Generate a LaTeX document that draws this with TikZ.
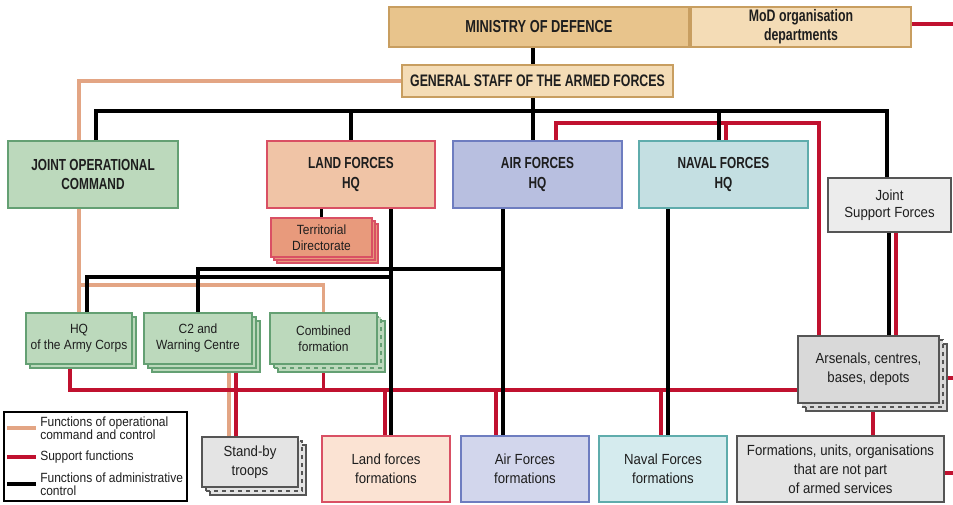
\documentclass[tikz,border=0pt]{standalone}
\usepackage{fontspec}
\setmainfont{Liberation Sans}[FakeStretch=0.9,BoldFeatures={FakeStretch=0.74}]
\usepackage{tikz}
\usetikzlibrary{shadows,backgrounds,calc}
\definecolor{opcorange}{RGB}{227,165,132}
\definecolor{supred}{RGB}{192,17,47}
\definecolor{textgray}{RGB}{30,30,30}
\definecolor{modtan}{RGB}{232,196,140}
\definecolor{modlight}{RGB}{244,220,182}
\definecolor{modline}{RGB}{200,158,96}
\definecolor{jocgreen}{RGB}{188,217,188}
\definecolor{jocline}{RGB}{100,160,115}
\definecolor{landpeach}{RGB}{240,196,166}
\definecolor{landline}{RGB}{217,80,100}
\definecolor{landlight}{RGB}{251,227,211}
\definecolor{airblue}{RGB}{184,191,224}
\definecolor{airlight}{RGB}{210,214,236}
\definecolor{airline}{RGB}{110,125,192}
\definecolor{navteal}{RGB}{196,223,226}
\definecolor{navlight}{RGB}{213,235,238}
\definecolor{navline}{RGB}{95,172,172}
\definecolor{terrsalmon}{RGB}{232,154,124}
\definecolor{greyfill}{RGB}{228,228,228}
\definecolor{greylight}{RGB}{236,236,236}
\definecolor{greyline}{RGB}{85,85,85}

\begin{document}
\begin{tikzpicture}[
    x=0.75pt, y=-0.75pt,
    sz/.style 2 args={minimum width=#1*0.75pt, minimum height=#2*0.75pt},
    unit/.style={rectangle, inner sep=1pt, align=center, text=textgray, line width=0.8pt},
    head/.style={unit, font=\fontsize{12}{14.5}\selectfont\bfseries},
    body/.style={unit, font=\fontsize{11}{14.25}\selectfont},
    small/.style={unit, font=\fontsize{10}{12}\selectfont},
    ministry/.style={head, fill=modtan, draw=modline},
    staff/.style={head, fill=modlight, draw=modline},
    joint/.style={head, fill=jocgreen, draw=jocline},
    land/.style={head, fill=landpeach, draw=landline},
    air/.style={head, fill=airblue, draw=airline},
    naval/.style={head, fill=navteal, draw=navline},
    corps/.style={small, fill=jocgreen, draw=jocline},
    support/.style={body, fill=greylight, draw=greyline},
    stack/.style={copy shadow={shadow xshift=6pt, shadow yshift=-6pt},
                  copy shadow={shadow xshift=3pt, shadow yshift=-3pt, dashed}},
    legtext/.style={inner sep=0pt, anchor=west, align=left, text=textgray, font=\fontsize{10}{10}\selectfont},
    adm/.style={draw=black, line width=2.5pt},
    sup/.style={draw=supred, line width=2.3pt},
    opc/.style={draw=opcorange, line width=2.4pt}
]
\useasboundingbox (0,0) rectangle (953,504);

% Top level
\node[ministry, sz={300}{40}, font=\fontsize{13}{15}\selectfont\bfseries] (mod) at (539,27) {MINISTRY OF DEFENCE};
\node[staff, sz={220}{40}, font=\fontsize{12.5}{14.5}\selectfont\bfseries] (modorg) at (801,27) {MoD organisation\\departments};
\node[staff, sz={271}{32}, font=\fontsize{12.5}{14.5}\selectfont\bfseries] (gs) at (537.5,81) {GENERAL STAFF OF THE ARMED FORCES};

% Commands and HQs
\node[joint, sz={170}{67}] (joc) at (93,174.5) {JOINT OPERATIONAL\\COMMAND};
\node[land, sz={168}{67}] (landhq) at (351,174.5) {LAND FORCES\\HQ};
\node[air, sz={169}{67}] (airhq) at (537.5,174.5) {AIR FORCES\\HQ};
\node[naval, sz={169}{67}] (navhq) at (723.5,174.5) {NAVAL FORCES\\HQ};
\node[support, sz={123}{54}, font=\fontsize{11}{12.5}\selectfont] (jsf) at (889.5,205) {Joint\\Support Forces};
\node[small, sz={101}{39}, fill=terrsalmon, draw=landline,
      double copy shadow={shadow xshift=2.25pt, shadow yshift=-2.25pt}] (terr) at (321.5,237.5) {Territorial\\Directorate};

% Subordinate elements
\node[corps, sz={106}{51}, copy shadow={shadow xshift=3pt, shadow yshift=-3pt}] (hqac) at (79,338.5) {HQ\\of the Army Corps};
\node[corps, sz={108}{51}, double copy shadow={shadow xshift=3pt, shadow yshift=-3pt}] (c2) at (198,338.5) {C2 and\\Warning Centre};
\node[corps, sz={107}{51}, stack] (comb) at (323.5,338.5) {Combined\\formation};
\node[support, sz={141}{67}, fill=greyfill!95!black, stack] (ars) at (868.5,369.5) {Arsenals, centres,\\bases, depots};

% Formations
\node[support, sz={96}{50}, fill=greyfill, stack] (stand) at (250,462) {Stand-by\\troops};
\node[body, sz={128}{66}, fill=landlight, draw=landline] (landf) at (386,469) {Land forces\\formations};
\node[body, sz={128}{66}, fill=airlight, draw=airline] (airf) at (525,469) {Air Forces\\formations};
\node[body, sz={128}{66}, fill=navlight, draw=navline] (navf) at (663,469) {Naval Forces\\formations};
\node[support, sz={207}{66}, fill=greyfill] (other) at (840.5,469) {Formations, units, organisations\\that are not part\\of armed services};

% Legend
\node[draw=black, fill=white, line width=0.8pt, sz={183}{89}] (legend) at (95.5,456.5) {};
\node[legtext] (l1) at (40,428) {Functions of operational\\command and control};
\node[legtext] (l2) at (40,457) {Support functions};
\node[legtext] (l3) at (40,484) {Functions of administrative\\control};
\draw[opc, line width=3pt] ([xshift=-24.75pt]l1.west) -- ([xshift=-3pt]l1.west);
\draw[sup, line width=3pt] ([xshift=-24.75pt]l2.west) -- ([xshift=-3pt]l2.west);
\draw[adm] ([xshift=-24.75pt]l3.west) -- ([xshift=-3pt]l3.west);

\begin{scope}[on background layer]
% Operational command and control
\draw[opc] (gs.west) -| (hqac.center);
\coordinate (opcbar) at (79,285);
\draw[opc] (opcbar) -| (comb.center);
\coordinate (c2opc) at (229,0);
\draw[opc] (c2.center -| c2opc) -- (stand.center -| c2opc);

% Support functions
\coordinate (rim) at (953,0);
\coordinate (modR) at (953,24);
\draw[sup] (modorg.center |- modR) -- (modR);
\coordinate (suptop) at (556,123);
\coordinate (suptopE) at (819,123);
\draw[sup] (airhq.center -| suptop) -- (suptop) -- (suptopE) -- (ars.center -| suptopE);
\coordinate (navsup) at (726,123);
\draw[sup] (navsup) -- (navhq.center -| navsup);
\coordinate (jsfsup) at (896,0);
\draw[sup] (jsf.center -| jsfsup) -- (ars.center -| jsfsup);
\coordinate (arssup) at (953,378);
\draw[sup] (ars.center |- arssup) -- (arssup);
\coordinate (othsup) at (873,0);
\draw[sup] (ars.center -| othsup) -- (other.center -| othsup);
\coordinate (othR) at (953,473);
\draw[sup] (other.center |- othR) -- (othR);
\coordinate (busW) at (70,390);
\draw[sup] (hqac.center -| busW) -- (busW) -- (ars.center |- busW);
\draw[sup] (comb.center) -- (comb.center |- busW);
\coordinate (c2sup) at (236,0);
\draw[sup] (c2.center -| c2sup) -- (stand.center -| c2sup);
\coordinate (landsup) at (385,390);
\draw[sup] (landsup) -- (landf.center -| landsup);
\coordinate (airsup) at (496,390);
\draw[sup] (airsup) -- (airf.center -| airsup);
\coordinate (navfsup) at (661,390);
\draw[sup] (navfsup) -- (navf.center -| navfsup);

% Administrative control
\coordinate (spine) at (533,111);
\draw[adm] (mod.center -| spine) -- (airhq.center -| spine);
\coordinate (admW) at (96,111);
\coordinate (admE) at (887,111);
\draw[adm] (joc.center -| admW) -- (admW) -- (admE) -- (jsf.center -| admE);
\draw[adm] (landhq.center) -- (landhq.center |- admW);
\coordinate (navadm) at (719,111);
\draw[adm] (navadm) -- (navhq.center -| navadm);
\draw[adm] (terr.center) -- (terr.center |- landhq.center);
\coordinate (landadm) at (391,277);
\draw[adm] (landhq.center -| landadm) -- (landf.center -| landadm);
\coordinate (hqadm) at (87,277);
\draw[adm] (hqac.center -| hqadm) -- (hqadm) -- (landadm);
\coordinate (airadm) at (503,269);
\draw[adm] (airhq.center -| airadm) -- (airf.center -| airadm);
\draw[adm] (c2.center) -- (c2.center |- airadm) -- (airadm);
\coordinate (navfadm) at (668,0);
\draw[adm] (navhq.center -| navfadm) -- (navf.center -| navfadm);
\coordinate (jsfadm) at (889,0);
\draw[adm] (jsf.center -| jsfadm) -- (ars.center -| jsfadm);
\end{scope}

\end{tikzpicture}
\end{document}
